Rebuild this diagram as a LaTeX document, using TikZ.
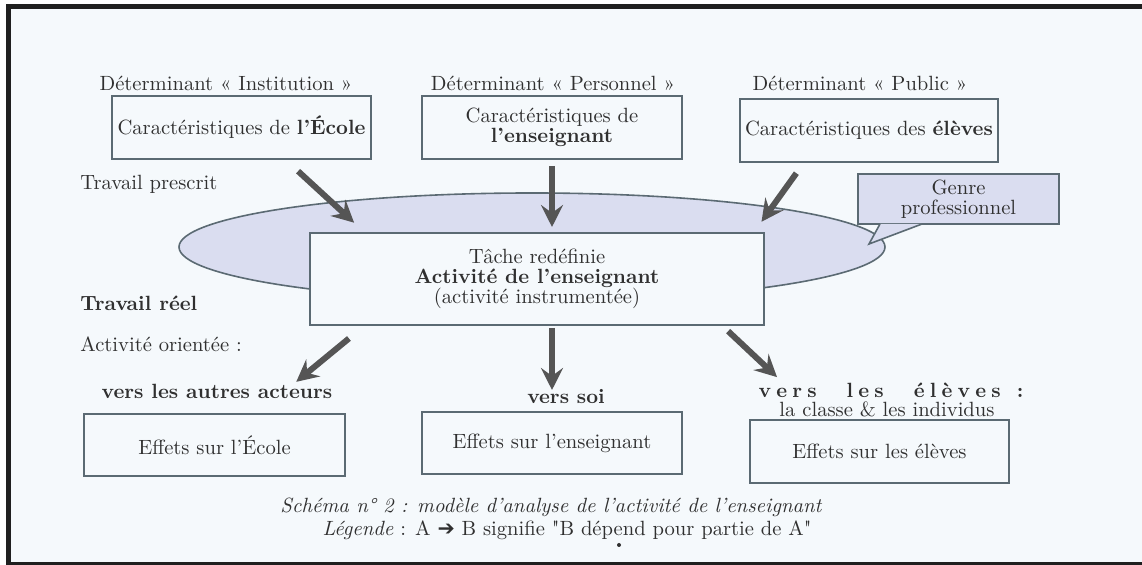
\documentclass[tikz,border=0pt]{standalone}
\usepackage{fontspec}
\usepackage{tikz}
\usetikzlibrary{arrows.meta,shapes.geometric}
\newfontfamily\symbfont{DejaVu Sans}
\definecolor{fond}{HTML}{F5F9FC}
\definecolor{trait}{HTML}{5B6A73}
\definecolor{texte}{HTML}{303030}
\definecolor{lavande}{HTML}{DADDF0}
\definecolor{fleche}{HTML}{555555}
\newcommand\lsp{\kern2.6pt}

\begin{document}
\begin{tikzpicture}[x=0.5pt,y=-0.5pt,>=Stealth,
    every node/.style={text=texte,font=\fontsize{10.3}{10}\selectfont},
    main node/.style={rectangle,draw=trait,line width=0.8pt,fill=fond,align=center,inner sep=2pt,outer sep=0pt},
    tag node/.style={align=center,inner sep=0pt},
    big arrow/.style={-{Stealth[length=11pt,width=11pt,inset=4pt]},draw=fleche,line width=3pt}]

      % fond et cadre
      \fill[white] (0,0) rectangle (1142,565);
      \fill[fond] (11,9) rectangle (1142,562);
      \fill[black!88] (6,4) rectangle (1142,9);
      \fill[black!88] (6,4) rectangle (11,565);
      \fill[black!88] (6,562) rectangle (1142,565);

      % zone du genre professionnel
      \node[ellipse,draw=trait,fill=lavande,line width=0.8pt,minimum width=353pt,minimum height=54pt,inner sep=0pt] (champ) at (532,247) {};
      \node[main node,fill=lavande,minimum width=100.5pt,minimum height=25pt] (genre) at (958.5,199) {Genre\\professionnel};
      \coordinate (pointe) at (869,244);
      \fill[lavande] ([xshift=-39.25pt]genre.south) -- (pointe) -- ([xshift=-18.25pt]genre.south) -- cycle;
      \draw[trait,line width=0.8pt] ([xshift=-39.25pt]genre.south) -- (pointe) -- ([xshift=-18.25pt]genre.south);

      % determinants
      \node[tag node] (d1) at (226,83) {Déterminant « Institution »};
      \node[tag node] (d2) at (553,83) {Déterminant « Personnel »};
      \node[tag node] (d3) at (860,83) {Déterminant « Public »};
      \node[main node,minimum width=129.5pt,minimum height=31.5pt] (ecole) at (241.5,127.5) {Caractéristiques de \textbf{l’École}};
      \node[main node,minimum width=130pt,minimum height=31.5pt] (perso) at (552,127.5) {Caractéristiques de\\\textbf{l’enseignant}};
      \node[main node,minimum width=129pt,minimum height=31.5pt] (public) at (869,130.5) {Caractéristiques des \textbf{élèves}};

      % activite
      \node[main node,minimum width=227pt,minimum height=46pt] (centre) at (537,279) {Tâche redéfinie\\\textbf{Activité de l’enseignant}\\(activité instrumentée)};

      \node[tag node,anchor=west] (prescrit) at (80,184) {Travail prescrit};
      \node[tag node,anchor=west] (reel) at (80,303) {\textbf{Travail réel}};
      \node[tag node,anchor=west] (oriente) at (80,344) {Activité orientée :};

      % effets
      \node[tag node] (v1) at (217,391) {\textbf{vers les autres acteurs}};
      \node[tag node] (v2) at (566,397) {\textbf{vers soi}};
      \node[tag node] (v3) at (891,390) {\bfseries v\lsp e\lsp r\lsp s\hspace{15pt}l\lsp e\lsp s\hspace{15pt}é\lsp l\lsp è\lsp v\lsp e\lsp s\hspace{8pt}:};
      \node[tag node] (v4) at (887,409) {la classe \& les individus};
      \node[main node,minimum width=130.5pt,minimum height=31pt] (fecole) at (214.5,445) {Effets sur l’École};
      \node[main node,minimum width=130pt,minimum height=31pt] (fens) at (552,443) {Effets sur l’enseignant};
      \node[main node,minimum width=129.5pt,minimum height=31.5pt] (felev) at (879.5,451.5) {Effets sur les élèves};

      % fleches
      \draw[big arrow,shorten <=9pt,shorten >=7.6pt] (ecole.-36.2) -- (centre.165.8);
      \draw[big arrow,shorten <=3.5pt,shorten >=3pt] (perso.south) -- (perso.south |- centre.north);
      \draw[big arrow,shorten <=6.9pt,shorten >=6.9pt] (public.206) -- (centre.12.9);
      \draw[big arrow,shorten <=10.6pt,shorten >=25.3pt] (centre.195.6) -- (fecole.36.1);
      \draw[big arrow,shorten <=1.5pt,shorten >=11pt] (centre.south -| fens.north) -- (fens.north);
      \draw[big arrow,shorten <=4.5pt,shorten >=31.3pt] (centre.-14.4) -- (felev.151.5);

      % legende
      \node[tag node] (titre) at (551,507) {\itshape Schéma n° 2 : modèle d’analyse de l’activité de l’enseignant};
      \node[tag node] (legende) at (567,530) {\textit{Légende} : A {\symbfont ➔} B signifie \textquotedbl B dépend pour partie de A\textquotedbl};
      \fill[texte] (619,545) circle (1pt);
    \end{tikzpicture}
\end{document}
